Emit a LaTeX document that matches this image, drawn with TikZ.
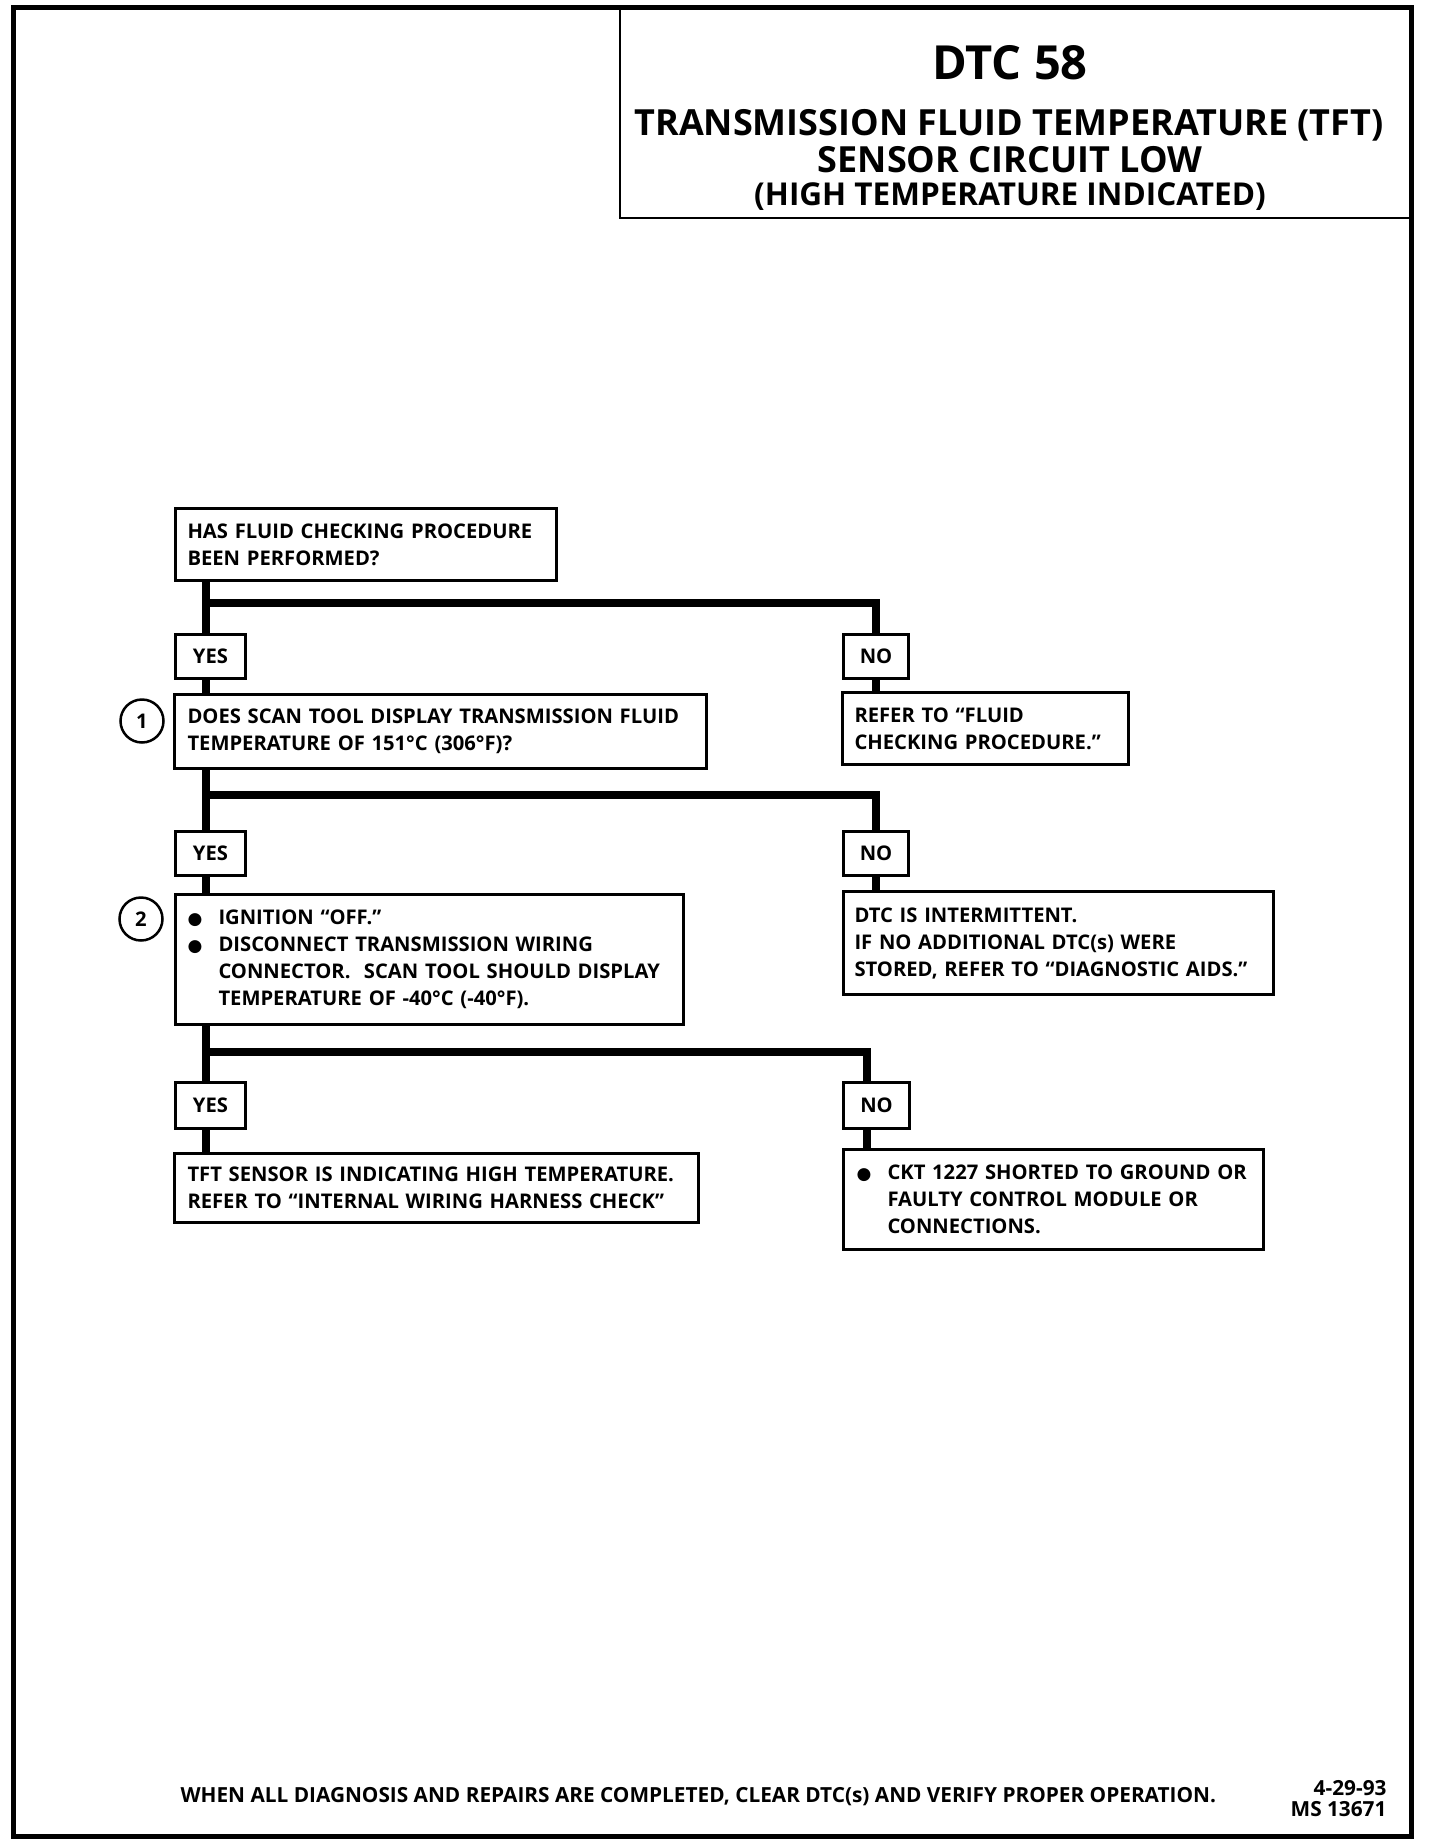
\documentclass[tikz,border=0pt]{standalone}
\usepackage{fontspec}
\setmainfont{Open Sans}
\newfontfamily\djfont{DejaVu Sans}
\newcommand\bodyfont{\fontsize{20.2}{27}\selectfont\bfseries}
\newcommand\bul{\makebox[31pt][l]{{\djfont\fontsize{17}{17}\selectfont ●}}}
\begin{document}
\begin{tikzpicture}[x=1pt,y=-1pt,
  box/.style={draw, line width=3pt, fill=white, anchor=north west, inner ysep=0pt, font=\bodyfont, align=left},
  lab/.style={draw, line width=3pt, fill=white, anchor=north west, inner sep=0pt, font=\bodyfont, minimum width=70pt, minimum height=44pt},
  num/.style={circle, draw, line width=2.5pt, minimum size=43pt, inner sep=0pt, font=\bodyfont},
  conn/.style={line width=8pt},
  ttl/.style={anchor=base, font=\bfseries}
]
\useasboundingbox (0,0) rectangle (1440,1846);
% frame and title box
\draw[line width=5pt] (13,8) rectangle (1411,1836);
\draw[line width=2.5pt] (620,8) -- (620,218) -- (1411,218);
\node[ttl, font=\fontsize{47}{47}\selectfont\bfseries] (t1) at (1010,80) {DTC 58};
\node[ttl, font=\fontsize{36}{36}\selectfont\bfseries] (t2) at (1009,136) {TRANSMISSION FLUID TEMPERATURE (TFT)};
\node[ttl, font=\fontsize{36}{36}\selectfont\bfseries] (t3) at (1010,173) {SENSOR CIRCUIT LOW};
\node[ttl, font=\fontsize{31.5}{31.5}\selectfont\bfseries] (t4) at (1010,206) {(HIGH TEMPERATURE INDICATED)};

% boxes
\node[box, inner xsep=12pt, text width=357pt, minimum height=72pt] (qa) at (174,507)
  {\mbox{HAS FLUID CHECKING PROCEDURE}\\\mbox{BEEN PERFORMED?}};
\node[box, inner xsep=13pt, text width=506pt, minimum height=74pt] (b1) at (173,693)
  {\mbox{DOES SCAN TOOL DISPLAY TRANSMISSION FLUID}\\\mbox{TEMPERATURE OF 151°C (306°F)?}};
\node[box, inner xsep=12pt, text width=262pt, minimum height=72pt] (r1) at (841,691)
  {\mbox{REFER TO “FLUID}\\\mbox{CHECKING PROCEDURE.”}};
\node[box, inner xsep=12pt, text width=484pt, minimum height=130pt] (b2) at (174,893)
  {\mbox{\bul IGNITION “OFF.”}\\
   \mbox{\bul DISCONNECT TRANSMISSION WIRING}\\
   \mbox{\hspace*{31pt}CONNECTOR.\ \ SCAN TOOL SHOULD DISPLAY}\\
   \mbox{\hspace*{31pt}TEMPERATURE OF -40°C (-40°F).}};
\node[box, inner xsep=11pt, text width=408pt, minimum height=103pt] (d2) at (842,890)
  {\mbox{DTC IS INTERMITTENT.}\\\mbox{IF NO ADDITIONAL DTC(s) WERE}\\\mbox{STORED, REFER TO “DIAGNOSTIC AIDS.”}};
\node[box, inner xsep=13pt, text width=498pt, minimum height=69pt] (t3b) at (173,1152)
  {\mbox{TFT SENSOR IS INDICATING HIGH TEMPERATURE.}\\\mbox{REFER TO “INTERNAL WIRING HARNESS CHECK”}};
\node[box, inner xsep=13pt, text width=394pt, minimum height=100pt] (c3) at (842,1148)
  {\mbox{\bul CKT 1227 SHORTED TO GROUND OR}\\
   \mbox{\hspace*{31pt}FAULTY CONTROL MODULE OR}\\
   \mbox{\hspace*{31pt}CONNECTIONS.}};

% yes / no labels
\node[lab] (y1) at (174,633) {YES};
\node[lab, minimum width=65pt] (n1) at (842,633) {NO};
\node[lab] (y2) at (174,830) {YES};
\node[lab, minimum width=65pt] (n2) at (842,830) {NO};
\node[lab, minimum height=46pt] (y3) at (174,1081) {YES};
\node[lab, minimum width=66pt, minimum height=46pt] (n3) at (842,1081) {NO};

% step numbers
\node[num] (c1) at (142,721) {1};
\node[num] (c2) at (141,919) {2};

% junctions
\coordinate (j1) at (206,603);
\coordinate (k1) at (876,603);
\coordinate (j2) at (206,795);
\coordinate (k2) at (876,795);
\coordinate (j3) at (206,1052);
\coordinate (k3) at (867,1052);

% connectors
\draw[conn] (qa.south -| j1) -- (y1.north -| j1);
\draw[conn] (y1.south -| j1) -- (b1.north -| j1);
\draw[conn] (j1) -- (k1) -- (n1.north -| k1);
\draw[conn] (n1.south -| k1) -- (r1.north -| k1);

\draw[conn] (b1.south -| j2) -- (y2.north -| j2);
\draw[conn] (y2.south -| j2) -- (b2.north -| j2);
\draw[conn] (j2) -- (k2) -- (n2.north -| k2);
\draw[conn] (n2.south -| k2) -- (d2.north -| k2);

\draw[conn] (b2.south -| j3) -- (y3.north -| j3);
\draw[conn] (y3.south -| j3) -- (t3b.north -| j3);
\draw[conn] (j3) -- (k3) -- (n3.north -| k3);
\draw[conn] (n3.south -| k3) -- (c3.north -| k3);

% footer
\node[anchor=base west, font=\fontsize{20.8}{27}\selectfont\bfseries] (foot) at (177,1802)
  {WHEN ALL DIAGNOSIS AND REPAIRS ARE COMPLETED, CLEAR DTC(s) AND VERIFY PROPER OPERATION.};
\node[anchor=base east, font=\fontsize{20.8}{27}\selectfont\bfseries] (date) at (1390,1795) {4-29-93};
\node[anchor=base east, font=\fontsize{20.8}{27}\selectfont\bfseries] (ms) at (1390,1816) {MS 13671};
\end{tikzpicture}
\end{document}
